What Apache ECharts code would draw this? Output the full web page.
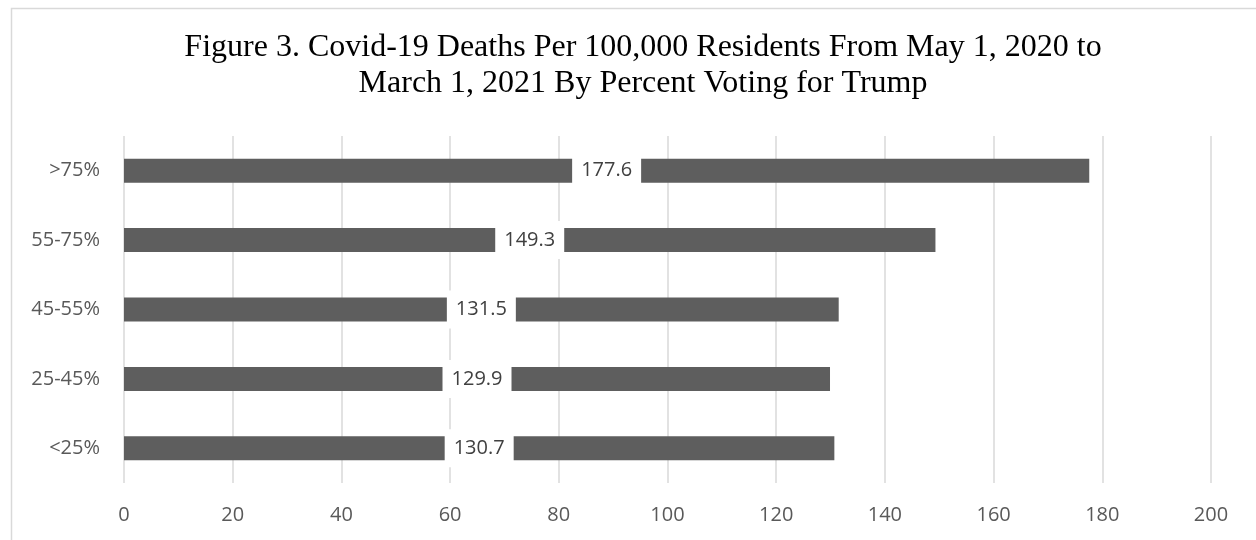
<!DOCTYPE html>
<html>
<head>
<meta charset="utf-8">
<script src="https://cdn.jsdelivr.net/npm/echarts@6/dist/echarts.min.js"></script>
<style>
  html, body { margin: 0; padding: 0; background: #ffffff; }
  #chart { width: 1256px; height: 540px; }
</style>
</head>
<body>
<div id="chart"></div>
<script>
// Vote-share groups, bottom to top
const categories = ['<25%', '25-45%', '45-55%', '55-75%', '>75%'];
// Covid-19 deaths per 100,000 residents, May 1, 2020 – March 1, 2021
const deathsPer100k = [130.7, 129.9, 131.5, 149.3, 177.6];
// Value axis ticks
const axisMin = 0;
const axisMax = 200;
const axisStep = 20;

const chart = echarts.init(document.getElementById('chart'), null, { renderer: 'canvas' });

const labelFont = '"Open Sans", "Liberation Sans", sans-serif';

chart.setOption({
  backgroundColor: '#ffffff',
  animation: false,
  title: {
    text: 'Figure 3. Covid-19 Deaths Per 100,000 Residents From May 1, 2020 to\nMarch 1, 2021 By Percent Voting for Trump',
    left: 638,
    top: 25,
    textAlign: 'center',
    textStyle: {
      fontFamily: '"Liberation Serif", "Times New Roman", serif',
      fontSize: 32,
      fontWeight: 'normal',
      lineHeight: 36,
      color: '#000000'
    }
  },
  graphic: [{
    type: 'rect',
    silent: true,
    z: -1,
    shape: { x: 11.5, y: 8.5, width: 1400, height: 700 },
    style: { fill: 'none', stroke: '#d9d9d9', lineWidth: 1.5 }
  }],
  grid: {
    left: 124,
    right: 45,
    top: 136,
    bottom: 57,
    containLabel: false
  },
  xAxis: {
    type: 'value',
    min: axisMin,
    max: axisMax,
    interval: axisStep,
    axisLine: { show: false },
    axisTick: { show: false },
    splitLine: { show: true, lineStyle: { color: '#d9d9d9', width: 1.5 } },
    axisLabel: {
      margin: 22,
      color: '#595959',
      fontFamily: labelFont,
      fontSize: 20
    }
  },
  yAxis: {
    type: 'category',
    data: categories,
    axisLine: { show: false },
    axisTick: { show: false },
    splitLine: { show: false },
    axisLabel: {
      margin: 24,
      color: '#595959',
      fontFamily: labelFont,
      fontSize: 20
    }
  },
  series: [{
    type: 'bar',
    data: deathsPer100k,
    barWidth: 24,
    itemStyle: { color: '#5e5e5e' },
    label: {
      show: true,
      position: 'inside',
      formatter: (p) => p.value.toFixed(1),
      color: '#404040',
      fontFamily: labelFont,
      fontSize: 20,
      lineHeight: 24,
      backgroundColor: '#ffffff',
      padding: [7, 9]
    }
  }]
});
</script>
</body>
</html>
